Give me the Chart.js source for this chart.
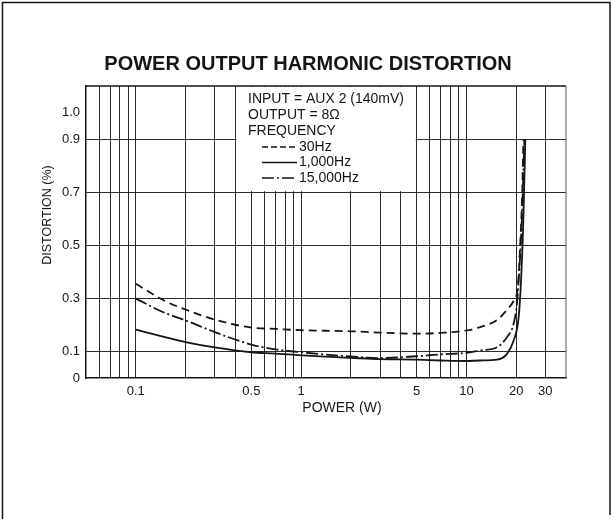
<!DOCTYPE html>
<html>
<head>
<meta charset="utf-8">
<script src="https://cdn.jsdelivr.net/npm/chart.js@4.4.1/dist/chart.umd.min.js"></script>
<style>
  html, body { margin: 0; padding: 0; background: #fff; }
  #wrap { width: 613px; height: 519px; }
</style>
</head>
<body>
<div id="wrap"><canvas id="chart" width="613" height="519"></canvas></div>
<script>
// Power (W) / distortion (%), one pair of arrays per frequency
const power30 = [0.1, 0.15, 0.2, 0.3, 0.5, 0.7, 1, 2, 3, 5, 7, 10, 12.1, 15.3, 17.6, 19.3, 20.2, 20.7, 21.2, 21.7, 22.1];
const dist30  = [0.355, 0.29, 0.258, 0.22, 0.19, 0.185, 0.18, 0.176, 0.171, 0.167, 0.17, 0.179, 0.192, 0.218, 0.257, 0.29, 0.32, 0.39, 0.52, 0.68, 0.9];

const power1k = [0.1, 0.15, 0.2, 0.3, 0.5, 0.7, 1, 2, 3, 5, 7, 10, 12.1, 15.3, 17.6, 19.3, 20.7, 21.4, 22.0, 22.7];
const dist1k  = [0.182, 0.154, 0.135, 0.115, 0.097, 0.092, 0.085, 0.076, 0.071, 0.069, 0.066, 0.064, 0.066, 0.069, 0.091, 0.141, 0.23, 0.37, 0.56, 0.9];

const power15k = [0.1, 0.15, 0.2, 0.3, 0.5, 0.7, 1, 2, 3, 5, 7, 10, 12.1, 15.3, 17.6, 19.3, 20.2, 20.9, 21.7, 22.4];
const dist15k  = [0.299, 0.245, 0.217, 0.173, 0.126, 0.108, 0.097, 0.081, 0.075, 0.082, 0.089, 0.095, 0.104, 0.116, 0.154, 0.205, 0.28, 0.41, 0.62, 0.9];

// axes
const powerGrid = [0.06, 0.07, 0.08, 0.09, 0.1, 0.2, 0.3, 0.4, 0.5, 0.6, 0.7, 0.8, 0.9,
                   1, 2, 3, 4, 5, 6, 7, 8, 9, 10, 20, 30];
const powerLabelVals = [0.1, 0.5, 1, 5, 10, 20, 30];
const powerLabelText = ['0.1', '0.5', '1', '5', '10', '20', '30'];
const distTicks = [0, 0.1, 0.3, 0.5, 0.7, 0.9, 1.0];
const distTickText = ['0', '0.1', '0.3', '0.5', '0.7', '0.9', '1.0'];
const distGrid = [0.1, 0.3, 0.5, 0.7, 0.9];

const legendNotes = ['INPUT = AUX 2 (140mV)', 'OUTPUT = 8\u03A9', 'FREQUENCY'];
const seriesNames = ['30Hz', '1,000Hz', '15,000Hz'];

const FONT = '"Liberation Sans", Arial, sans-serif';
const INK = '#151515';

function toPoints(xs, ys) {
    return xs.map((x, i) => ({ x: x, y: ys[i] }));
}

const dashes = [[8, 5], [], [12, 3, 2, 3]];

// page frame, title, axis titles and the boxed legend
const decorPlugin = {
    id: 'decor',
    beforeDraw(chart) {
        const ctx = chart.ctx;
        ctx.save();
        ctx.fillStyle = '#fff';
        ctx.fillRect(0, 0, chart.width, chart.height);
        ctx.restore();
    },
    beforeDatasetsDraw(chart) {
        const ctx = chart.ctx;
        const xs = chart.scales.x, ys = chart.scales.y;
        const area = chart.chartArea;
        const x0 = xs.getPixelForValue(0.4), x1 = xs.getPixelForValue(5);
        const yb = ys.getPixelForValue(0.7);
        ctx.save();
        ctx.fillStyle = '#fff';
        ctx.fillRect(x0 + 1, area.top + 1, x1 - x0 - 2, yb - area.top - 2);

        ctx.fillStyle = INK;
        ctx.font = '14px ' + FONT;
        ctx.textBaseline = 'middle';
        ctx.textAlign = 'left';
        legendNotes.forEach((t, i) => ctx.fillText(t, 248, 99 + i * 16));
        seriesNames.forEach((t, i) => {
            const y = 147 + i * 15.5;
            ctx.beginPath();
            ctx.setLineDash(i === 0 ? [6, 3] : dashes[i]);
            ctx.lineWidth = 1.6;
            ctx.strokeStyle = INK;
            ctx.moveTo(262, y);
            ctx.lineTo(297, y);
            ctx.stroke();
            ctx.setLineDash([]);
            ctx.fillText(t, 299, y);
        });
        ctx.restore();
    },
    afterDraw(chart) {
        const ctx = chart.ctx;
        const area = chart.chartArea;
        ctx.save();
        // plot box
        ctx.strokeStyle = INK;
        ctx.lineWidth = 1.5;
        ctx.beginPath();
        ctx.moveTo(area.left, area.top);
        ctx.lineTo(area.right, area.top);
        ctx.stroke();
        ctx.strokeStyle = '#555';
        ctx.lineWidth = 1;
        ctx.beginPath();
        ctx.moveTo(area.right, area.top);
        ctx.lineTo(area.right, area.bottom);
        ctx.stroke();

        // page frame
        ctx.strokeStyle = INK;
        ctx.lineWidth = 1.5;
        ctx.beginPath();
        ctx.moveTo(2.5, chart.height + 5);
        ctx.lineTo(2.5, 2.5);
        ctx.lineTo(610, 2.5);
        ctx.lineTo(610, chart.height - 4);
        ctx.stroke();

        // title
        ctx.fillStyle = INK;
        ctx.textAlign = 'center';
        ctx.textBaseline = 'alphabetic';
        ctx.font = 'bold 20px ' + FONT;
        ctx.fillText('POWER OUTPUT HARMONIC DISTORTION', 308, 70);

        // axis titles
        ctx.font = '14px ' + FONT;
        ctx.textBaseline = 'middle';
        ctx.fillText('POWER (W)', 342, 408);

        ctx.translate(48, 215);
        ctx.rotate(-Math.PI / 2);
        ctx.font = '12.5px ' + FONT;
        ctx.fillText('DISTORTION (%)', 0, 0);
        ctx.restore();
    }
};

const ctx = document.getElementById('chart').getContext('2d');
new Chart(ctx, {
    type: 'line',
    data: {
        datasets: [
            { label: seriesNames[0], data: toPoints(power30, dist30), borderDash: dashes[0] },
            { label: seriesNames[1], data: toPoints(power1k, dist1k), borderDash: dashes[1] },
            { label: seriesNames[2], data: toPoints(power15k, dist15k), borderDash: dashes[2] }
        ].map(ds => Object.assign(ds, {
            borderColor: INK,
            borderWidth: 1.8,
            pointRadius: 0,
            fill: false,
            cubicInterpolationMode: 'monotone'
        }))
    },
    options: {
        responsive: false,
        animation: false,
        layout: {
            padding: { top: 86, right: 47, bottom: 0, left: 0 }
        },
        plugins: {
            legend: { display: false },
            title: { display: false },
            tooltip: { enabled: false }
        },
        scales: {
            x: {
                type: 'logarithmic',
                min: 0.05,
                max: 40,
                afterBuildTicks: scale => {
                    scale.ticks = powerGrid.map(v => ({ value: v }));
                },
                afterFit: scale => { scale.height = 141; },
                grid: {
                    color: 'rgba(20,20,20,0.9)',
                    lineWidth: 1,
                    drawTicks: false
                },
                border: { display: true, color: INK, width: 1.5 },
                ticks: {
                    autoSkip: false,
                    maxRotation: 0,
                    padding: 6,
                    color: INK,
                    font: { family: FONT, size: 13 },
                    callback: value => {
                        const i = powerLabelVals.findIndex(v => Math.abs(v - value) < 1e-9);
                        return i >= 0 ? powerLabelText[i] : '';
                    }
                }
            },
            y: {
                min: 0,
                max: 1.1,
                afterBuildTicks: scale => {
                    scale.ticks = distTicks.map(v => ({ value: v }));
                },
                afterFit: scale => { scale.width = 86; },
                grid: {
                    color: c => distGrid.some(v => Math.abs(v - c.tick.value) < 1e-9) ? 'rgba(20,20,20,0.9)' : 'rgba(0,0,0,0)',
                    lineWidth: 1,
                    drawTicks: false
                },
                border: { display: true, color: INK, width: 1.5 },
                ticks: {
                    autoSkip: false,
                    padding: 6,
                    color: INK,
                    font: { family: FONT, size: 13 },
                    callback: value => {
                        const i = distTicks.findIndex(v => Math.abs(v - value) < 1e-9);
                        return i >= 0 ? distTickText[i] : '';
                    }
                }
            }
        }
    },
    plugins: [decorPlugin]
});
</script>
</body>
</html>
